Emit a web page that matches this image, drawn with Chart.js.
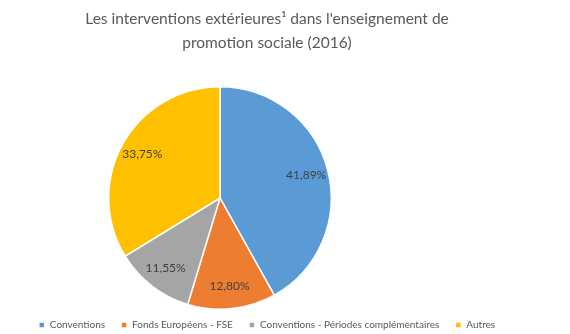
<!DOCTYPE html>
<html>
<head>
<meta charset="utf-8">
<script src="https://cdn.jsdelivr.net/npm/chart.js@4.4.1/dist/chart.umd.min.js"></script>
<style>
  html, body { margin: 0; padding: 0; background: #ffffff; }
  #wrap { position: relative; width: 570px; height: 334px; }
</style>
</head>
<body>
<div id="wrap"><canvas id="interventions-chart" width="570" height="334"></canvas></div>
<script>
const categories = [
  "Conventions",
  "Fonds Européens - FSE",
  "Conventions - Périodes complémentaires",
  "Autres",
];
const shares = [41.89, 12.8, 11.55, 33.75];
const sliceColors = ["#5B9BD5", "#ED7D31", "#A5A5A5", "#FFC000"];
const titleLines = [
  "Les interventions extérieures\u00b9 dans l'enseignement de",
  "promotion sociale (2016)",
];

// Plot area of the pie (Excel keeps it left of the title centre)
const pieBox = { cx: 220, cy: 198, r: 112 };

const pieAreaPlugin = {
  id: "pieArea",
  afterLayout(chart) {
    const a = chart.chartArea;
    a.left = pieBox.cx - pieBox.r;
    a.right = pieBox.cx + pieBox.r;
    a.top = pieBox.cy - pieBox.r;
    a.bottom = pieBox.cy + pieBox.r;
    a.width = a.right - a.left;
    a.height = a.bottom - a.top;
  },
};

// Percentage labels inside each slice
const sliceLabelPlugin = {
  id: "sliceLabels",
  afterDatasetsDraw(chart) {
    const ctx = chart.ctx;
    const meta = chart.getDatasetMeta(0);
    ctx.save();
    ctx.font = "12px Lato";
    ctx.fillStyle = "#404040";
    ctx.textAlign = "center";
    ctx.textBaseline = "middle";
    meta.data.forEach((arc, i) => {
      const mid = (arc.startAngle + arc.endAngle) / 2;
      const d = arc.outerRadius * 0.8;
      const text = shares[i].toFixed(2).replace(".", ",") + "%";
      ctx.fillText(text, arc.x + Math.cos(mid) * d, arc.y + Math.sin(mid) * d);
    });
    ctx.restore();
  },
};

const ctx = document.getElementById("interventions-chart").getContext("2d");
new Chart(ctx, {
  type: "pie",
  data: {
    labels: categories,
    datasets: [
      {
        data: shares,
        backgroundColor: sliceColors,
        borderColor: "#ffffff",
        borderWidth: 1.5,
      },
    ],
  },
  options: {
    responsive: false,
    animation: false,
    layout: { padding: { left: 0, right: 36, top: 7, bottom: -6 } },
    plugins: {
      title: {
        display: true,
        text: titleLines,
        color: "#595959",
        font: { family: "Lato", size: 15.5, weight: "normal", lineHeight: 1.55 },
        padding: { top: 0, bottom: 0 },
      },
      legend: {
        position: "bottom",
        labels: {
          color: "#595959",
          font: { family: "Lato", size: 10 },
          boxWidth: 6,
          boxHeight: 6,
          padding: 16,
        },
      },
      tooltip: { enabled: false },
    },
  },
  plugins: [pieAreaPlugin, sliceLabelPlugin],
});
</script>
</body>
</html>
